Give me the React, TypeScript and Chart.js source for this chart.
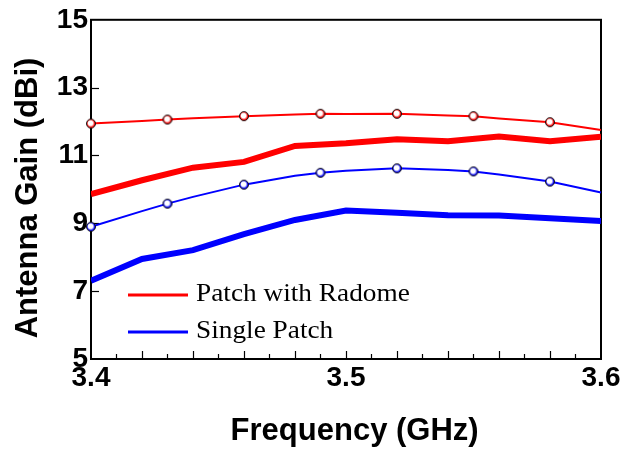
import React, { useEffect, useRef } from "react";
import { Chart, registerables } from "chart.js";

Chart.register(...registerables);

// Thin lines (with circle markers every 0.03 GHz)
const freqThin = [3.40, 3.42, 3.43, 3.44, 3.46, 3.48, 3.49, 3.50, 3.52, 3.54, 3.55, 3.56, 3.58, 3.60];
const markerFreqs = [3.40, 3.43, 3.46, 3.49, 3.52, 3.55, 3.58];
const radomeThin = [11.94, 12.02, 12.06, 12.10, 12.16, 12.21, 12.23, 12.22, 12.23, 12.18, 12.16, 12.09, 11.98, 11.75];
const singleThin = [8.90, 9.36, 9.58, 9.78, 10.14, 10.40, 10.49, 10.55, 10.62, 10.57, 10.53, 10.44, 10.23, 9.91];

// Thick lines
const freqThick = [3.40, 3.42, 3.44, 3.46, 3.48, 3.50, 3.52, 3.54, 3.56, 3.58, 3.60];
const radomeThick = [9.86, 10.27, 10.64, 10.81, 11.28, 11.36, 11.48, 11.42, 11.56, 11.42, 11.55];
const singleThick = [7.31, 7.95, 8.21, 8.68, 9.10, 9.38, 9.31, 9.24, 9.23, 9.15, 9.07];

const xTickLabels = [3.4, 3.5, 3.6];
const yTickLabels = [5, 7, 9, 11, 13, 15];
const legendLabels = ["Patch with Radome", "Single Patch"];
const legendColors = ["#ff0000", "#0000ff"];

const RED = "#ff0000";
const BLUE = "#0000ff";

function makeMarker(color: string): HTMLCanvasElement {
  const c = document.createElement("canvas");
  c.width = 12;
  c.height = 12;
  const ctx = c.getContext("2d")!;
  const g = ctx.createRadialGradient(5.2, 5.0, 0.3, 6, 6, 4.8);
  g.addColorStop(0, "#ffffff");
  g.addColorStop(0.45, "#ffffff");
  g.addColorStop(0.8, color);
  g.addColorStop(1, color);
  ctx.beginPath();
  ctx.arc(6, 6, 4.5, 0, Math.PI * 2);
  ctx.fillStyle = g;
  ctx.fill();
  ctx.lineWidth = 1;
  ctx.strokeStyle = "#111";
  ctx.stroke();
  return c;
}

const pts = (xs: number[], ys: number[]) => xs.map((x, i) => ({ x, y: ys[i] }));

const framePlugin = {
  id: "frame",
  beforeDatasetsDraw(chart: any) {
    const { ctx, chartArea: a, scales } = chart;
    const x = scales.x;
    const y = scales.y;
    ctx.save();
    ctx.strokeStyle = "#000";
    ctx.lineWidth = 2;
    ctx.strokeRect(a.left, a.top, a.right - a.left, a.bottom - a.top);
    ctx.lineWidth = 1.2;
    yTickLabels.forEach((v) => {
      if (v === 5 || v === 15) return;
      const py = Math.round(y.getPixelForValue(v)) + 0.5;
      ctx.beginPath();
      ctx.moveTo(a.left, py);
      ctx.lineTo(a.left + 8, py);
      ctx.stroke();
    });
    for (let i = 1; i < 20; i++) {
      const f = 3.4 + i * 0.01;
      const px = Math.round(x.getPixelForValue(f)) + 0.5;
      const len = i % 2 === 0 ? 8 : 5;
      ctx.beginPath();
      ctx.moveTo(px, a.bottom);
      ctx.lineTo(px, a.bottom - len);
      ctx.stroke();
    }
    ctx.restore();
  },
};

const legendPlugin = {
  id: "insideLegend",
  afterDraw(chart: any) {
    const { ctx, chartArea: a } = chart;
    ctx.save();
    const rows = [a.bottom - 64, a.bottom - 27];
    legendLabels.forEach((label, i) => {
      const ly = rows[i];
      ctx.strokeStyle = legendColors[i];
      ctx.lineWidth = 3;
      ctx.beginPath();
      ctx.moveTo(a.left + 37, ly);
      ctx.lineTo(a.left + 97, ly);
      ctx.stroke();
      ctx.save();
      ctx.translate(a.left + 105, ly + 6);
      ctx.scale(1.05, 1);
      ctx.fillStyle = "#000";
      ctx.font = "26px 'Liberation Serif', 'Times New Roman', serif";
      ctx.textBaseline = "alphabetic";
      ctx.textAlign = "left";
      ctx.fillText(label, 0, 0);
      ctx.restore();
    });
    ctx.restore();
  },
};

export default function App() {
  const ref = useRef<HTMLCanvasElement | null>(null);

  useEffect(() => {
    document.body.style.margin = "0";
    const canvas = ref.current!;
    const redMarker = makeMarker(RED);
    const blueMarker = makeMarker(BLUE);
    const isMarker = (f: number) => markerFreqs.some((m) => Math.abs(m - f) < 1e-6);
    const radii = freqThin.map((f) => (isMarker(f) ? 4 : 0));

    const sans = "'Liberation Sans', Arial, sans-serif";

    const chart = new Chart(canvas, {
      type: "line",
      data: {
        datasets: [
          {
            label: "Patch with Radome (thin)",
            data: pts(freqThin, radomeThin),
            borderColor: RED,
            borderWidth: 2,
            pointRadius: radii,
            pointStyle: redMarker as any,
            clip: false as any,
            tension: 0,
          },
          {
            label: "Single Patch (thin)",
            data: pts(freqThin, singleThin),
            borderColor: BLUE,
            borderWidth: 2,
            pointRadius: radii,
            pointStyle: blueMarker as any,
            clip: false as any,
            tension: 0,
          },
          {
            label: "Patch with Radome",
            data: pts(freqThick, radomeThick),
            borderColor: RED,
            borderWidth: 6,
            pointRadius: 0,
            tension: 0,
          },
          {
            label: "Single Patch",
            data: pts(freqThick, singleThick),
            borderColor: BLUE,
            borderWidth: 6,
            pointRadius: 0,
            tension: 0,
          },
        ],
      },
      options: {
        responsive: false,
        animation: false,
        events: [],
        layout: { padding: { top: 18, right: 22, left: 0, bottom: 0 } },
        plugins: { legend: { display: false }, tooltip: { enabled: false } },
        scales: {
          x: {
            type: "linear",
            min: 3.4,
            max: 3.6,
            afterBuildTicks: (s: any) => {
              s.ticks = xTickLabels.map((v) => ({ value: v }));
            },
            afterFit: (s: any) => {
              s.height = 93;
            },
            ticks: {
              color: "#000",
              font: { family: sans, size: 28, weight: "bold" },
              padding: 2,
              maxRotation: 0,
              callback: (v: any) => Number(v).toFixed(1),
            },
            grid: { display: false, drawTicks: false },
            border: { display: false },
            title: {
              display: true,
              text: "  Frequency (GHz)",
              color: "#000",
              font: { family: sans, size: 31, weight: "bold" },
              padding: { top: 4, bottom: 2 },
            },
          },
          y: {
            type: "linear",
            min: 5,
            max: 15,
            afterBuildTicks: (s: any) => {
              s.ticks = yTickLabels.map((v) => ({ value: v }));
            },
            afterFit: (s: any) => {
              s.width = 91;
            },
            ticks: {
              color: "#000",
              font: { family: sans, size: 28, weight: "bold" },
              padding: 3,
            },
            grid: { display: false, drawTicks: false },
            border: { display: false },
            title: {
              display: true,
              text: "Antenna Gain (dBi)  ",
              color: "#000",
              font: { family: sans, size: 31, weight: "bold" },
              padding: { top: 10, bottom: 0 },
            },
          },
        },
      },
      plugins: [framePlugin, legendPlugin],
    });
    return () => chart.destroy();
  }, []);

  return <canvas ref={ref} width={623} height={452} style={{ display: "block" }} />;
}
